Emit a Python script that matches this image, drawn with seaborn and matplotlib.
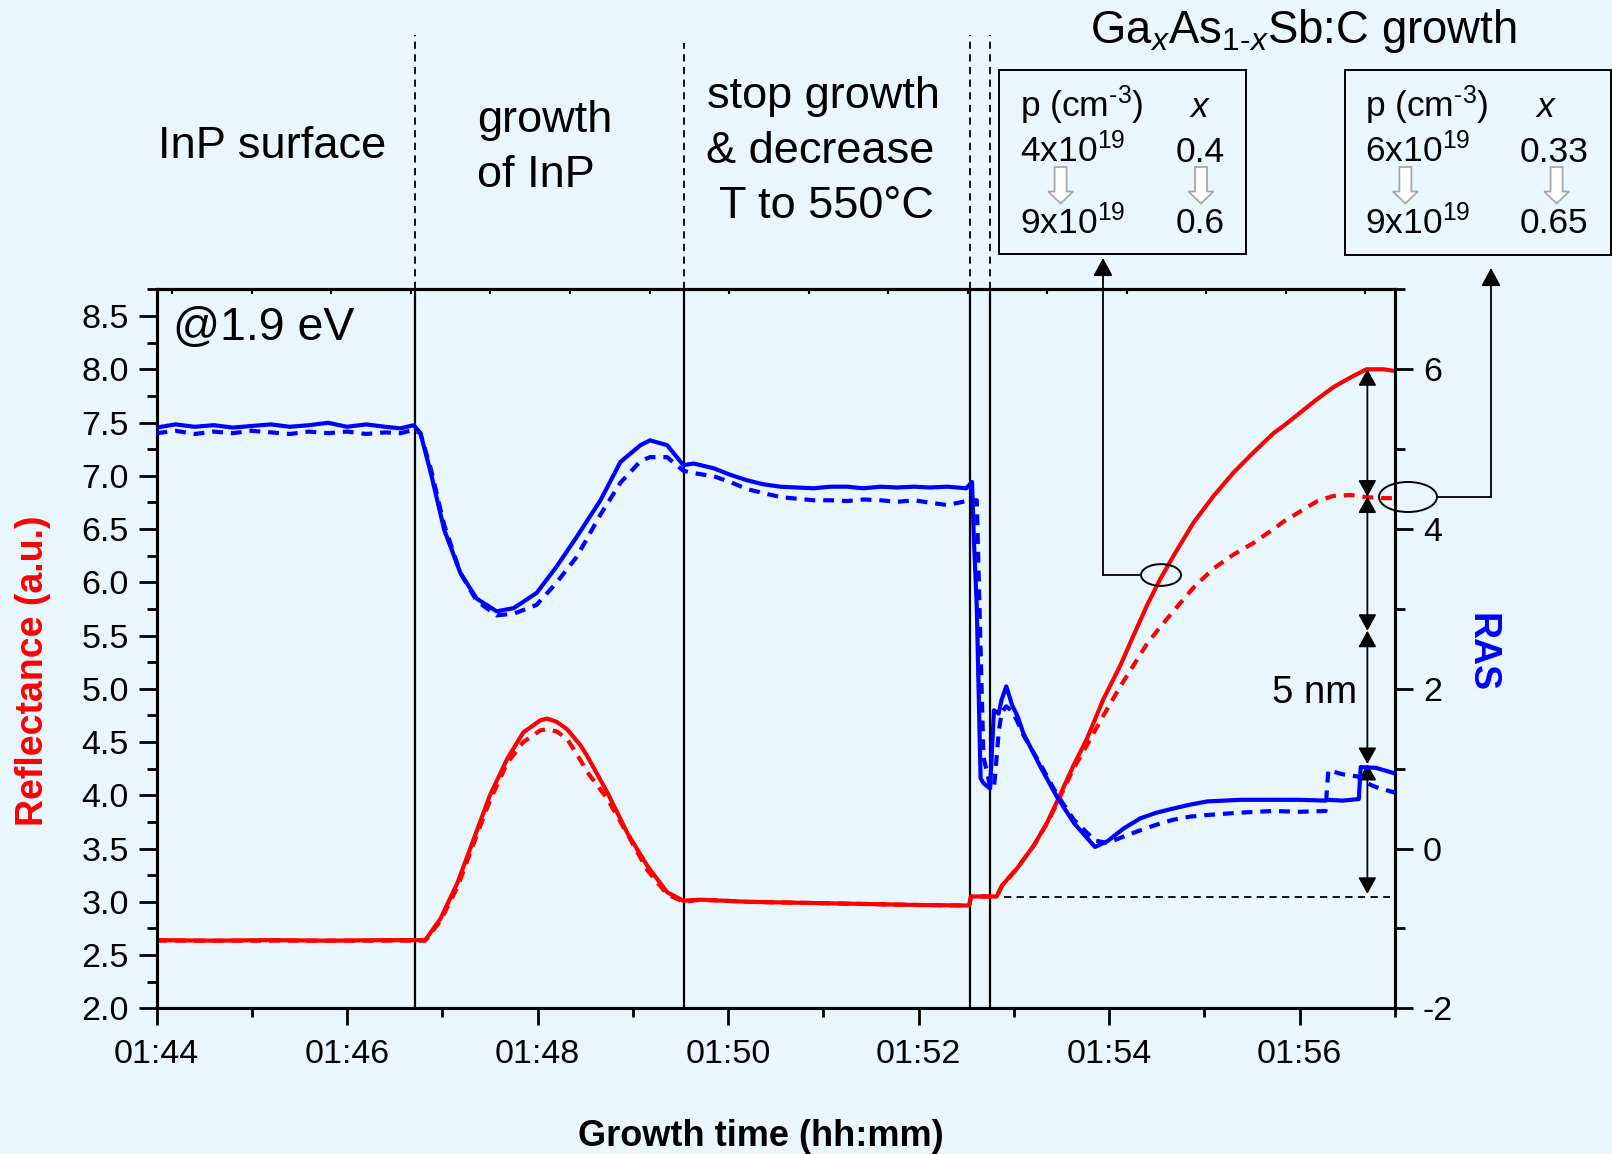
import numpy as np
import pandas as pd
import matplotlib
matplotlib.use("Agg")
import matplotlib.pyplot as plt
import matplotlib.transforms as mtransforms
import seaborn as sns
from matplotlib.patches import Ellipse, Rectangle, FancyArrow
from matplotlib.lines import Line2D
from matplotlib.ticker import MultipleLocator, FixedLocator, FormatStrFormatter

# ---------------- data (time in minutes after 01:44) ----------------
refl_time = [0, 0.6, 1.2, 1.8, 2.4, 2.82, 2.98, 3.16, 3.33, 3.50, 3.68, 3.85, 4.03, 4.10,
             4.20, 4.31, 4.45, 4.52, 4.73, 4.94, 5.15, 5.36, 5.53, 5.71, 6.2, 6.8, 7.4,
             8.0, 8.53, 8.55, 8.82, 8.874, 9.03, 9.21, 9.35, 9.45, 9.625, 9.766, 9.94,
             10.115, 10.255, 10.395, 10.535, 10.675, 10.885, 11.095, 11.305, 11.515,
             11.725, 11.83, 12.18, 12.35, 12.53, 12.70, 12.88, 13.0]
refl_solid = [2.64, 2.635, 2.64, 2.635, 2.64, 2.64, 2.84, 3.18, 3.59, 4.00, 4.34, 4.59, 4.705,
              4.72, 4.69, 4.62, 4.47, 4.37, 4.03, 3.65, 3.34, 3.09, 3.01, 3.02, 3.0, 2.99,
              2.98, 2.97, 2.965, 3.05, 3.05, 3.153, 3.31, 3.53, 3.747, 3.935, 4.28, 4.53,
              4.904, 5.216, 5.50, 5.78, 6.03, 6.248, 6.56, 6.81, 7.03, 7.22, 7.40, 7.468,
              7.718, 7.83, 7.922, 8.0, 8.0, 7.984]
refl_dashed = [2.635, 2.635, 2.635, 2.635, 2.635, 2.635, 2.82, 3.14, 3.55, 3.95, 4.30, 4.50,
               4.61, 4.62, 4.60, 4.53, 4.33, 4.22, 3.97, 3.64, 3.30, 3.07, 3.0, 3.02, 3.0,
               2.99, 2.98, 2.97, 2.965, 3.05, 3.05, 3.15, 3.31, 3.53, 3.74, 3.92, 4.25, 4.47,
               4.75, 5.02, 5.22, 5.42, 5.58, 5.73, 5.95, 6.13, 6.26, 6.37, 6.50, 6.57, 6.76,
               6.81, 6.82, 6.80, 6.79, 6.79]

ras_time = [0, 0.2, 0.4, 0.6, 0.8, 1.0, 1.2, 1.4, 1.6, 1.8, 2.0, 2.2, 2.4, 2.56, 2.70, 2.77,
            2.88, 3.02, 3.19, 3.36, 3.57, 3.75, 3.99, 4.20, 4.41, 4.66, 4.87, 5.08, 5.18,
            5.36, 5.53, 5.64, 5.85, 6.02, 6.20, 6.37, 6.55, 6.72, 6.90, 7.07, 7.25, 7.42,
            7.60, 7.77, 7.95, 8.12, 8.30, 8.50, 8.56, 8.58, 8.61, 8.65, 8.68, 8.75, 8.79,
            8.84, 8.87, 8.92, 8.98, 9.04, 9.10, 9.28, 9.45, 9.63, 9.85, 9.98, 10.15, 10.33,
            10.50, 10.67, 10.85, 11.03, 11.38, 11.72, 12.0, 12.27, 12.30, 12.45, 12.62,
            12.64, 12.8, 13.0]
ras_solid = [5.27, 5.31, 5.28, 5.30, 5.27, 5.29, 5.31, 5.28, 5.30, 5.33, 5.28, 5.31, 5.28,
             5.26, 5.30, 5.20, 4.70, 3.99, 3.45, 3.13, 2.97, 3.01, 3.20, 3.53, 3.90, 4.36,
             4.84, 5.05, 5.11, 5.05, 4.80, 4.82, 4.76, 4.68, 4.61, 4.56, 4.53, 4.52, 4.51,
             4.53, 4.53, 4.51, 4.53, 4.52, 4.53, 4.52, 4.53, 4.51, 4.59, 3.86, 3.03, 0.88,
             0.82, 0.75, 1.73, 1.69, 1.86, 2.03, 1.80, 1.65, 1.44, 1.02, 0.65, 0.32, 0.02,
             0.09, 0.25, 0.38, 0.45, 0.50, 0.55, 0.59, 0.61, 0.61, 0.61, 0.60, 0.61, 0.60,
             0.62, 1.02, 1.01, 0.94]
ras_dashed = [5.20, 5.23, 5.19, 5.22, 5.20, 5.23, 5.21, 5.19, 5.22, 5.20, 5.22, 5.19, 5.21,
              5.20, 5.24, 5.20, 4.75, 4.05, 3.45, 3.10, 2.92, 2.94, 3.05, 3.33, 3.65, 4.18,
              4.58, 4.85, 4.90, 4.90, 4.73, 4.70, 4.66, 4.59, 4.50, 4.45, 4.40, 4.38, 4.36,
              4.36, 4.35, 4.37, 4.36, 4.34, 4.36, 4.33, 4.30, 4.35, 4.36, 4.36, 4.36, 2.50,
              1.15, 0.78, 0.75, 1.45, 1.70, 1.78, 1.72, 1.58, 1.42, 1.05, 0.68, 0.36, 0.10,
              0.07, 0.15, 0.23, 0.30, 0.36, 0.40, 0.42, 0.45, 0.47, 0.46, 0.47, 0.98, 0.93,
              0.90, 0.85, 0.77, 0.70]

x_tick_pos = [0, 2, 4, 6, 8, 10, 12]
x_tick_labels = ["01:44", "01:46", "01:48", "01:50", "01:52", "01:54", "01:56"]
phase_bounds = [2.71, 5.535, 8.54, 8.75]
thickness_marks = [8.0, 6.805, 5.545, 4.294, 3.075]
thickness_time = 12.71
start_level = 3.045

# ---------------- style ----------------
sns.set_style("ticks")
plt.rcParams["font.family"] = ["Liberation Sans", "DejaVu Sans"]
plt.rcParams["mathtext.fontset"] = "custom"
plt.rcParams["mathtext.rm"] = "Liberation Sans"
plt.rcParams["mathtext.it"] = "Liberation Sans:italic"
plt.rcParams["mathtext.bf"] = "Liberation Sans:bold"
plt.rcParams["axes.unicode_minus"] = False
plt.rcParams["text.color"] = "black"
plt.rcParams["axes.labelcolor"] = "black"
plt.rcParams["xtick.color"] = "black"
plt.rcParams["ytick.color"] = "black"
plt.rcParams["axes.edgecolor"] = "black"

W, H = 1612, 1154
BG = "#EAF6FE"
RED = "#FF0000"
BLUE = "#0000FF"
TICK_FS = 24.5

fig = plt.figure(figsize=(W / 100, H / 100), dpi=100, facecolor=BG)
ax_l, ax_r, ax_t, ax_b = 156.5, 1395, 289.4, 1008.3
ax = fig.add_axes([ax_l / W, 1 - ax_b / H, (ax_r - ax_l) / W, (ax_b - ax_t) / H])
ax.set_facecolor(BG)
ax2 = ax.twinx()
ax2.patch.set_visible(False)

# phase boundaries (inside plot)
for tb in phase_bounds:
    ax.axvline(tb, color="black", lw=1.6, zorder=1)

# reflectance
sns.lineplot(x=refl_time, y=refl_solid, ax=ax, color=RED, linewidth=3.0,
             sort=False, estimator=None, zorder=3)
sns.lineplot(x=refl_time, y=refl_dashed, ax=ax, color=RED, linewidth=3.0,
             linestyle=(0, (2.6, 1.9)), sort=False, estimator=None, zorder=3)
# RAS
sns.lineplot(x=ras_time, y=ras_solid, ax=ax2, color=BLUE, linewidth=3.0,
             sort=False, estimator=None, zorder=3)
sns.lineplot(x=ras_time, y=ras_dashed, ax=ax2, color=BLUE, linewidth=3.0,
             linestyle=(0, (2.6, 1.9)), sort=False, estimator=None, zorder=3)

ax.set_xlim(0, 13)
ax.set_ylim(2.0, 8.75)
ax2.set_ylim(-2, 7)
ax.set_xlabel("")
ax.set_ylabel("")
ax2.set_xlabel("")
ax2.set_ylabel("")

ax.set_xticks(x_tick_pos, x_tick_labels)
ax.xaxis.set_minor_locator(MultipleLocator(1))
ax.yaxis.set_major_locator(MultipleLocator(0.5))
ax.yaxis.set_minor_locator(MultipleLocator(0.25))
ax.yaxis.set_major_formatter(FormatStrFormatter("%.1f"))
ax2.yaxis.set_major_locator(MultipleLocator(2))
ax2.yaxis.set_minor_locator(MultipleLocator(1))

ax.tick_params(axis="y", which="major", direction="out", length=13, width=2,
               labelsize=TICK_FS, pad=7, colors="black")
ax.tick_params(axis="y", which="minor", direction="out", length=7, width=2, colors="black")
ax.tick_params(axis="x", which="major", direction="out", length=12.5, width=2,
               labelsize=TICK_FS, pad=9.5, colors="black")
ax.tick_params(axis="x", which="minor", direction="out", length=6.5, width=2, colors="black")
ax2.tick_params(axis="y", which="major", direction="out", length=13, width=2,
                labelsize=TICK_FS, pad=7, colors="black")
ax2.tick_params(axis="y", which="minor", direction="out", length=7, width=2, colors="black")

for a in (ax, ax2):
    for sp in a.spines.values():
        sp.set_linewidth(2.2)
        sp.set_color("black")
        sp.set_visible(True)

top = ax.secondary_xaxis("top")
top.xaxis.set_major_locator(FixedLocator(np.arange(0.165, 13, 0.835)))
top.tick_params(direction="in", length=3.5, width=1.5, labeltop=False, colors="black")
top.spines["top"].set_linewidth(2.2)
top.spines["top"].set_color("black")

# dashed extensions of phase boundaries above the plot
blend = mtransforms.blended_transform_factory(ax.transData, fig.transFigure)
for tb, ytop in zip(phase_bounds, [35, 43, 35, 35]):
    fig.add_artist(Line2D([tb, tb], [1 - ax_t / H, 1 - ytop / H], transform=blend,
                          color="black", lw=1.3, linestyle=(0, (4, 3))))

# thickness arrows and start level
for y0, y1 in zip(thickness_marks[:-1], thickness_marks[1:]):
    ax.annotate("", xy=(thickness_time, y0), xytext=(thickness_time, y1),
                arrowprops=dict(arrowstyle="<|-|>,head_length=0.45,head_width=0.25",
                                color="black", lw=1.3, mutation_scale=22,
                                shrinkA=0, shrinkB=0), zorder=4)
ax.hlines(start_level, 8.9, 12.95, colors="black", lw=1.3, linestyles=(0, (4, 3)), zorder=2)


def ft(x, y, s, **kw):
    kw.setdefault("color", "black")
    return fig.text(x / W, 1 - y / H, s, **kw)


# ---- texts ----
ft(158, 158.3, "InP surface", fontsize=32.6, va="baseline", ha="left")
ft(477, 131.7, "growth", fontsize=32.5, va="baseline", ha="left")
ft(477, 186.7, "of InP", fontsize=32.5, va="baseline", ha="left")
ft(707, 108.3, "stop growth", fontsize=32.5, va="baseline", ha="left")
ft(706, 163.3, "& decrease", fontsize=32.5, va="baseline", ha="left")
ft(719, 218.3, "T to 550\u00b0C", fontsize=32.5, va="baseline", ha="left")
ft(1090, 43.3, r"Ga$_{\mathit{x}}$As$_{\mathrm{1}\text{-}\mathit{x}}$Sb:C growth",
   fontsize=32.8, va="baseline", ha="left")
ft(173, 340, "@1.9 eV", fontsize=33.5, va="baseline", ha="left")
ft(1272, 703.3, "5 nm", fontsize=27.5, va="baseline", ha="left")

ft(33, 671, "Reflectance (a.u.)", fontsize=27, fontweight="bold", color=RED,
   rotation=90, ha="center", va="center")
ft(1481, 652.5, "RAS", fontsize=27, fontweight="bold", color=BLUE,
   rotation=-90, ha="center", va="center")
ft(761, 1146, "Growth time (hh:mm)", fontsize=26, fontweight="bold",
   ha="center", va="baseline")

# ---- info boxes ----
box_specs = [
    (999.5, 70, 1246, 254, 1020, 1190, 1175.5, "4x10$^{19}$", "0.4", "0.6",
     [1060.6, 1201.0]),
    (1345, 70, 1610.5, 255, 1365, 1536.5, 1520, "6x10$^{19}$", "0.33", "0.65",
     [1405.4, 1556.6]),
]
for (x0, y0, x1, y1, cx, xx, vx, p1, v1, v2, arrows) in box_specs:
    fig.add_artist(Rectangle((x0 / W, 1 - y1 / H), (x1 - x0) / W, (y1 - y0) / H,
                             transform=fig.transFigure, fill=False,
                             edgecolor="black", lw=1.4))
    ft(cx, 116.7, r"p (cm$^{\text{-}3}$)", fontsize=25.5, va="baseline")
    ft(xx, 116.7, "x", fontsize=25.5, va="baseline", fontstyle="italic")
    ft(cx, 161.7, p1, fontsize=25.5, va="baseline")
    ft(vx, 161.7, v1, fontsize=25.5, va="baseline")
    ft(cx, 233.3, "9x10$^{19}$", fontsize=25.5, va="baseline")
    ft(vx, 233.3, v2, fontsize=25.5, va="baseline")
    for axx in arrows:
        fig.add_artist(FancyArrow(axx / 100, (H - 167) / 100, 0, -0.365,
                                  width=0.12, head_width=0.25, head_length=0.12,
                                  length_includes_head=True, facecolor="white",
                                  edgecolor="#A8A8A8", lw=1.3,
                                  transform=fig.dpi_scale_trans))

# ---- ellipses and connectors ----
fig.add_artist(Ellipse((1161 / 100, (H - 575) / 100), 0.40, 0.217,
                       transform=fig.dpi_scale_trans, fill=False,
                       edgecolor="black", lw=1.4))
fig.add_artist(Ellipse((1408 / 100, (H - 497) / 100), 0.58, 0.30,
                       transform=fig.dpi_scale_trans, fill=False,
                       edgecolor="black", lw=1.4))
fig.add_artist(Line2D([1141 / 100, 1103 / 100], [(H - 575) / 100] * 2,
                      transform=fig.dpi_scale_trans, color="black", lw=1.3))
fig.add_artist(Line2D([1437 / 100, 1491 / 100], [(H - 497) / 100] * 2,
                      transform=fig.dpi_scale_trans, color="black", lw=1.3))
for xa, ya0, ya1 in [(1103, 575, 258), (1491, 497, 268)]:
    ax.annotate("", xy=(xa, H - ya1), xycoords="figure pixels",
                xytext=(xa, H - ya0), textcoords="figure pixels",
                arrowprops=dict(arrowstyle="-|>,head_length=0.5,head_width=0.27",
                                color="black", lw=1.3, mutation_scale=22,
                                shrinkA=0, shrinkB=0), annotation_clip=False)

fig.savefig("out.png", dpi=100, facecolor=BG)
